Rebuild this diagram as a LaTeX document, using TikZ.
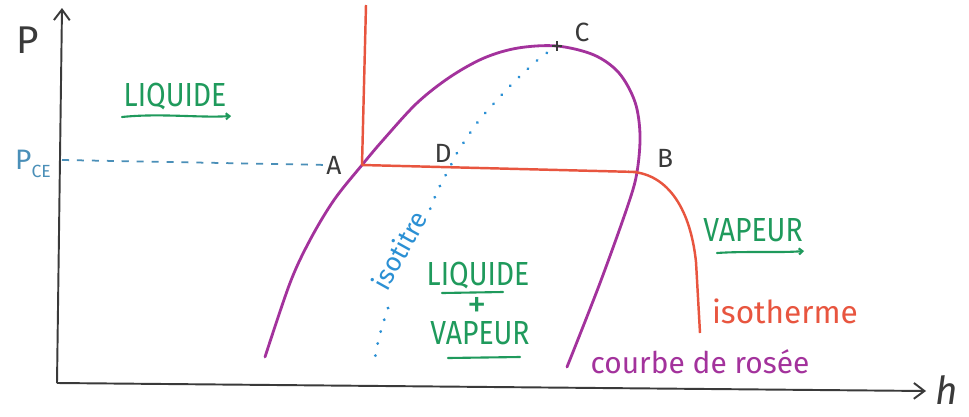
\documentclass[tikz,border=0pt]{standalone}
\usepackage{fontspec}
\setmainfont{Fira Sans}
\usepackage{graphicx}
\usetikzlibrary{arrows.meta}
\definecolor{axisc}{HTML}{3A3A3A}
\definecolor{redc}{HTML}{E8553F}
\definecolor{purpc}{HTML}{A3329C}
\definecolor{bluec}{HTML}{2B90D4}
\definecolor{pcec}{HTML}{4A8FB8}
\definecolor{greenc}{HTML}{1F9A5C}
\newcommand{\hw}[1]{\scalebox{0.85}[1]{#1}}
\newcommand{\fsz}[1]{\fontsize{#1}{#1}\selectfont}
\begin{document}
\begin{tikzpicture}[x=0.02cm,y=-0.02cm,
  axisline/.style={draw=axisc,line width=1.1pt,-{Straight Barb[length=6pt,width=9pt]}},
  bellcurve/.style={draw=purpc,line width=1.6pt,line cap=round},
  isoline/.style={draw=redc,line width=1.4pt,line join=round},
  titreline/.style={draw=bluec,line width=1.8pt,line cap=round,dash pattern=on 0.01pt off 7pt},
  pceline/.style={draw=pcec,line width=1pt,dash pattern=on 4pt off 4.5pt},
  ptlabel/.style={text=axisc,font=\fsz{15}},
  zone/.style={text=greenc,font=\fsz{19}},
  underl/.style={draw=greenc,line width=1.2pt,line cap=round,-{Straight Barb[length=2pt,width=3.5pt]}},
  underp/.style={draw=greenc,line width=1.2pt,line cap=round}
]
\useasboundingbox (0,0) rectangle (969,416);
\fill[white] (0,0) rectangle (969,416);

% named points
\coordinate (O) at (57,383);
\coordinate (Ytip) at (62,8);
\coordinate (Xtip) at (926,391);
\coordinate (A) at (362,165);
\coordinate (B) at (637,172);
\coordinate (C) at (557,46);
\coordinate (D) at (450,167);
\coordinate (Ptop) at (366,5);
\coordinate (Pce) at (62,160);
\coordinate (Aleft) at (328,165);
\coordinate (Bend) at (700,333);

% axes
\draw[axisline] (O) -- (Ytip);
\draw[axisline] (O) -- (Xtip);

% dashed P_CE line
\draw[pceline] (Pce) -- (Aleft);

% saturation bell curve
\draw[bellcurve] plot[smooth,tension=0.55] coordinates {(265,357) (290,283) (310,240) (334,200) (A) (384,139) (417,103) (450,77) (484,58) (518,48) (C) (594,55) (619,73) (635,102) (640,135) (B) (628,205) (600,283) (567,367)};

% isotherm
\draw[isoline] (Ptop) -- (A) -- (B) -- (628,171.7) .. controls (665,172) and (690,205) .. (696,262) -- (Bend);

% isotitre
\draw[titreline] plot[smooth,tension=0.55] coordinates {(C) (540,58) (518,78) (497,100) (477,123) (457,153) (D) (437,192) (426,220)};
\draw[titreline] plot[smooth,tension=0.55] coordinates {(388,308) (382,327) (378,342) (375,358)};
\node[text=bluec,font=\fsz{15},rotate=61] (iso) at (399,250) {isotitre};

% cross at C
\draw[axisc,line width=1pt] (552,46) -- (562,46) (557,41) -- (557,51);

% axis labels
\node[text=axisc,font=\fsz{22}] (Plab) at (28,40) {P};
\node[text=axisc,font=\fsz{22}] (hlab) at (947,390) {\itshape h};
\node[text=pcec,font=\fsz{16}] (Pcelab) at (33,164) {P\raisebox{-0.55ex}{\fsz{10}CE}};

% point labels
\node[ptlabel] (Alab) at (334,165) {A};
\node[ptlabel] (Blab) at (665,158) {B};
\node[ptlabel] (Clab) at (582,32) {C};
\node[ptlabel] (Dlab) at (443,153) {D};

% zone labels
\node[zone] (liq) at (175,97) {\hw{LIQUIDE}};
\draw[underl] (122,117) .. controls (160,113) and (200,118) .. (231,116);

\node[zone] (liq2) at (478,276) {\hw{LIQUIDE}};
\draw[underp] (442,293) -- (503,292);
\node[zone,font=\fsz{22}] (plus) at (477,307) {+};
\node[zone] (vap2) at (480,333) {\hw{VAPEUR}};
\draw[underp] (448,358) -- (520,357);

\node[zone] (vap) at (753,230) {\hw{VAPEUR}};
\draw[underl] (717,253) .. controls (745,251) and (780,253) .. (804,251);

\node[text=redc,font=\fsz{18}] (isoth) at (785,311) {isotherme};
\node[text=purpc,font=\fsz{17}] (rosee) at (700,362) {courbe de rosée};
\end{tikzpicture}
\end{document}
